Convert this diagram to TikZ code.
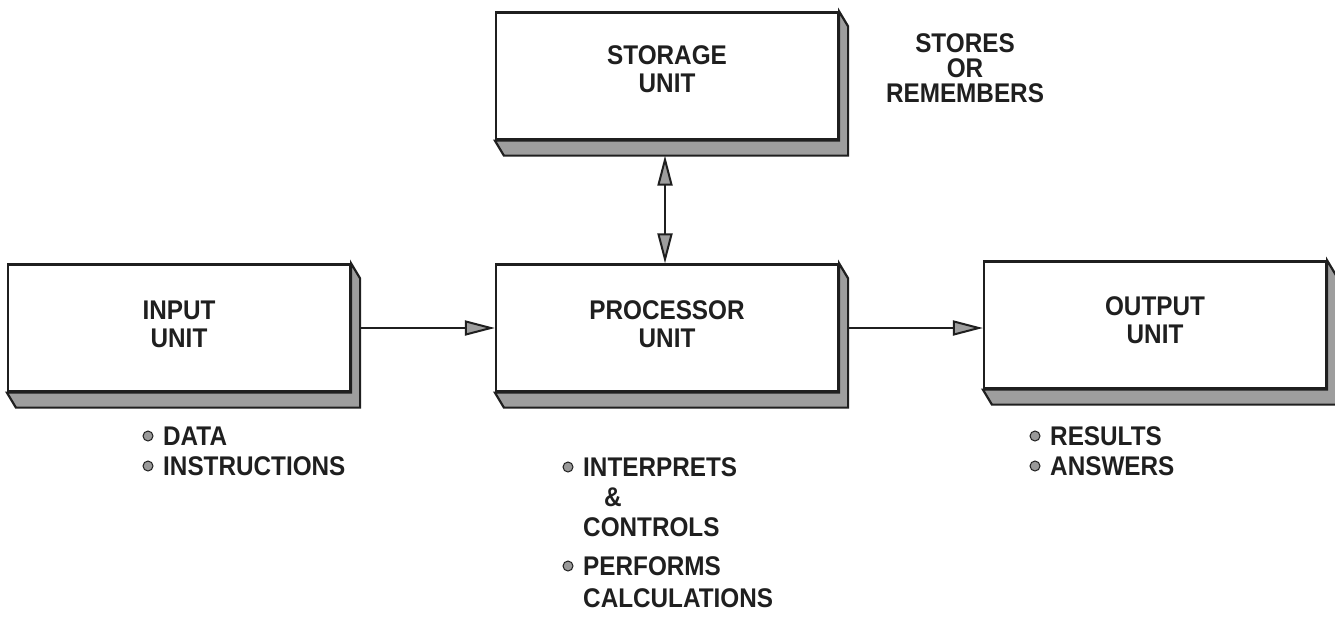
\documentclass[tikz,border=0pt]{standalone}
\usepackage{fontspec}
\setmainfont{Liberation Sans}[FakeStretch=0.9]
\usetikzlibrary{arrows.meta}
\definecolor{ink}{gray}{0.12}
\definecolor{shadegray}{gray}{0.62}
\definecolor{dotgray}{gray}{0.6}
% 3-D edge below and to the right of a unit box
\newcommand\unitshadow[1]{%
  \draw[edgepart] (#1.north east) -- ++(9,15)
    -- ([shift={(9pt,-15pt)}]#1.south east)
    -- ([shift={(9pt,-15pt)}]#1.south west)
    -- (#1.south west) -- (#1.south east) -- cycle;}
\begin{document}
\begin{tikzpicture}[x=1pt, y=-1pt,
  lbl/.style={font=\bfseries\fontsize{27}{28}\selectfont, text=ink, inner sep=0pt, align=center},
  unitbox/.style={draw=ink, line width=2.2pt, fill=white, minimum width=342pt,
    minimum height=127pt, inner sep=0pt},
  edgepart/.style={draw=ink, line width=2.2pt, fill=shadegray, line join=miter},
  flow/.style={draw=ink, line width=2pt, -{Triangle[length=30pt, width=15pt, fill=shadegray]}},
  twoway/.style={draw=ink, line width=2pt,
    {Triangle[length=30pt, width=15pt, fill=shadegray]}-{Triangle[length=30pt, width=15pt, fill=shadegray]}},
  itemline/.style={lbl, anchor=base west},
  dot/.style={draw=ink, line width=1pt, fill=dotgray}]
\useasboundingbox (0,0) rectangle (1335,624);

% the four units
\node[unitbox] (input) at (179,328) {};
\node[unitbox] (proc)  at (667,328) {};
\node[unitbox] (output) at (1155,325) {};
\node[unitbox] (store) at (667,76) {};
\unitshadow{input}
\unitshadow{proc}
\unitshadow{output}
\unitshadow{store}

% unit names
\node[lbl] (inputname) at ([yshift=4pt]input.center) {INPUT\\UNIT};
\node[lbl] (procname) at ([yshift=4pt]proc.center) {PROCESSOR\\UNIT};
\node[lbl] (outputname) at ([yshift=5pt]output.center) {OUTPUT\\UNIT};
\node[lbl] (storename) at ([yshift=7pt]store.center) {STORAGE\\UNIT};

% connectors
\coordinate (inedge) at ([xshift=9pt]input.east);
\coordinate (procedge) at ([xshift=9pt]proc.east);
\coordinate (storebase) at ([xshift=-2pt,yshift=-15pt]store.south);
\draw[flow] (inedge) -- (inedge -| proc.west);
\draw[flow] (procedge) -- (procedge -| output.west);
\draw[twoway] (storebase) -- (storebase |- proc.north);

% side note of the storage unit
\node[lbl, font=\bfseries\fontsize{27}{25}\selectfont] (note) at (965,68)
  {STORES\\OR\\REMEMBERS};

% input items
\node[itemline] (data) at (163,445) {DATA};
\node[itemline] (instr) at (163,475) {INSTRUCTIONS};
% processor items
\node[itemline] (interp) at (583,476) {INTERPRETS};
\node[lbl] (amp) at (613,497) {\&};
\node[itemline] (ctrl) at (583,536) {CONTROLS};
\node[itemline] (perf) at (583,575) {PERFORMS};
\node[itemline] (calc) at (583,607) {CALCULATIONS};
% output items
\node[itemline] (res) at (1050,445) {RESULTS};
\node[itemline] (ans) at (1050,475) {ANSWERS};

% bullets
\foreach \n in {data, instr, interp, perf, res, ans}
  \draw[dot] ([xshift=-15pt, yshift=9pt]\n.base west) circle (5pt);
\end{tikzpicture}
\end{document}
